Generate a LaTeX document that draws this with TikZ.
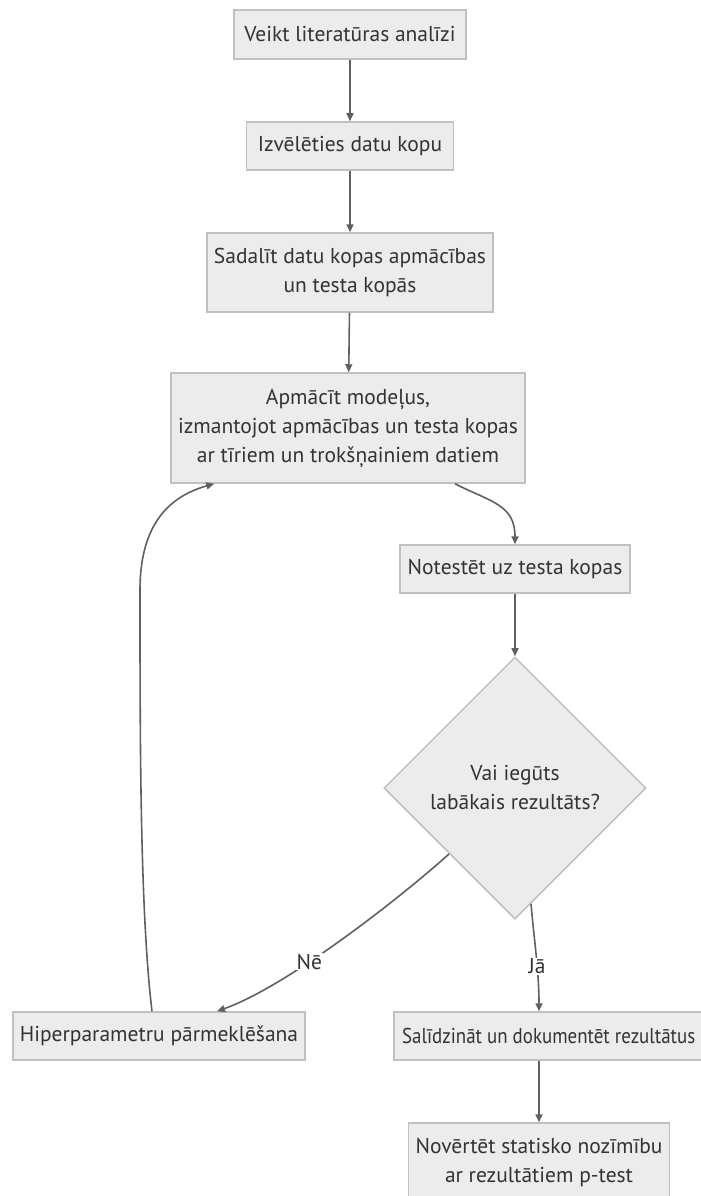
\documentclass[tikz,border=0pt]{standalone}
\usepackage{fontspec}
\setmainfont{PT Sans}
\newfontfamily\narrowsans[FakeStretch=0.88]{PT Sans}
\usetikzlibrary{shapes,arrows.meta,positioning,calc}
\definecolor{boxfill}{RGB}{236,236,236}
\definecolor{boxline}{RGB}{192,192,192}
\definecolor{flowline}{RGB}{96,96,96}
\definecolor{txtgray}{RGB}{51,51,51}

\tikzset{
    stepbox/.style={draw=boxline, fill=boxfill, line width=1.5pt, rectangle, align=center,
        text=txtgray, inner xsep=5pt, inner ysep=2pt, font=\fontsize{21.5}{29}\selectfont},
    decision/.style={draw=boxline, fill=boxfill, line width=1.5pt, diamond, aspect=1, align=center,
        text=txtgray, inner sep=0pt, font=\fontsize{21.5}{29}\selectfont},
    flow/.style={draw=flowline, line width=1.6pt, -{Triangle[length=8pt,width=7pt]}},
    edgelabel/.style={fill=white, text=txtgray, inner sep=1pt, font=\fontsize{21.5}{24}\selectfont}
}

\begin{document}
\begin{tikzpicture}[x=1pt, y=-1pt]
    \useasboundingbox (0,0) rectangle (701,1196);

    % Main column
    \node[stepbox, minimum width=232pt, minimum height=49pt] (lit) at (350,34.5) {Veikt literatūras analīzi};
    \node[stepbox, minimum width=207pt, minimum height=48pt] (dataset) at (350,146) {Izvēlēties datu kopu};
    \node[stepbox, minimum width=286pt, minimum height=79pt] (split) at (350,272.5)
        {Sadalīt datu kopas apmācības\\un testa kopās};
    \node[stepbox, minimum width=354pt, minimum height=110pt] (train) at (348,428)
        {Apmācīt modeļus,\\izmantojot apmācības un testa kopas\\ar tīriem un trokšņainiem datiem};

    % Testing and decision
    \node[stepbox, minimum width=230pt, minimum height=48pt] (test) at (515,569) {Notestēt uz testa kopas};
    \node[decision, minimum width=262pt, minimum height=262pt] (best) at (515,788)
        {Vai iegūts\\labākais rezultāts?};

    % Outcomes
    \node[stepbox, minimum width=292pt, minimum height=48pt] (hyper) at (159,1036) {Hiperparametru pārmeklēšana};
    \node[stepbox, minimum width=310pt, minimum height=48pt, anchor=west,
        font=\fontsize{21.5}{29}\narrowsans] (compare) at (393,1036)
        {Salīdzināt un dokumentēt rezultātus};
    \node[stepbox, minimum width=261pt, minimum height=79pt] (stat) at (539,1162.5)
        {Novērtēt statisko nozīmību\\ar rezultātiem p-test};

    \coordinate (loopturn) at (140,590);

    % Arrows
    \draw[flow] (lit) -- (dataset);
    \draw[flow] (dataset) -- (split);
    \draw[flow] (split) -- (train);
    \draw[flow] ($(train.south)+(107,0)$) .. controls +(35,18) and +(0,-40) .. (test.north);
    \draw[flow] (test) -- (best);
    \draw[flow] (best.south west) .. controls +(-50,45) and +(70,-25) .. ($(hyper.north)+(58,0)$)
        node[edgelabel, pos=0.62] {Nē};
    \draw[flow] ($(best.south)+(16,-16)$) .. controls +(3,35) and +(0,-40) .. ($(compare.north west)+(146,0)$)
        node[edgelabel, pos=0.6] {Jā};
    \draw[flow] ($(hyper.north)+(-7,0)$) .. controls +(-12,-100) and +(0,150) .. (loopturn)
        .. controls +(0,-60) and +(-50,14) .. ($(train.south west)+(44,0)$);
    \draw[flow] ($(compare.south west)+(146,0)$) -- (stat);
\end{tikzpicture}
\end{document}
